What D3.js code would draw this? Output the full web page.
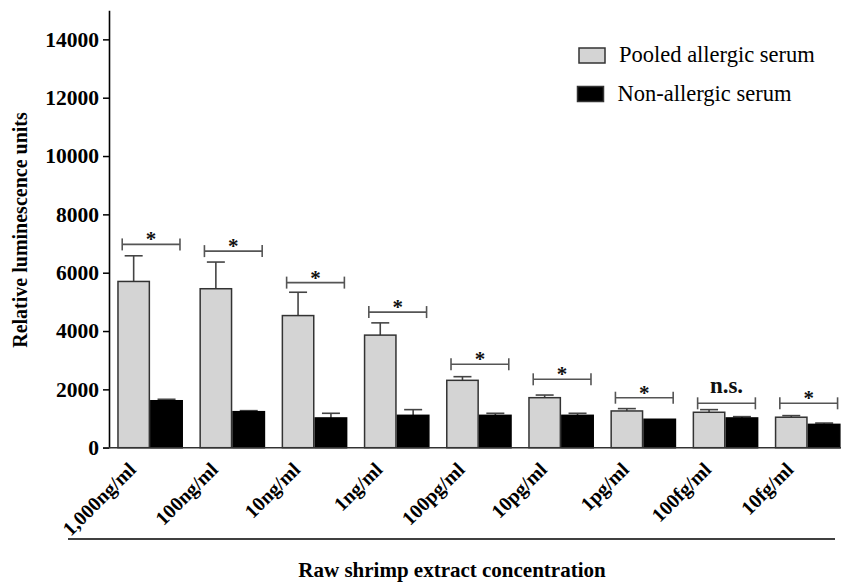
<!DOCTYPE html>
<html>
<head>
<meta charset="utf-8">
<script src="https://cdn.jsdelivr.net/npm/d3@7"></script>
<style>
  body { margin: 0; background: #fff; }
</style>
</head>
<body>
<div id="chart"></div>
<script>
// concentrations on the x axis
const categories = ['1,000ng/ml', '100ng/ml', '10ng/ml', '1ng/ml', '100pg/ml', '10pg/ml', '1pg/ml', '100fg/ml', '10fg/ml'];
// mean RLU and upper error (SEM)
const pooled = [5700, 5450, 4530, 3860, 2310, 1715, 1260, 1215, 1045];
const pooledErr = [880, 915, 800, 420, 125, 90, 80, 90, 55];
const nonAllergic = [1610, 1235, 1020, 1110, 1110, 1110, 975, 1020, 800];
const nonAllergicErr = [50, 35, 160, 195, 70, 70, 0, 45, 45];
// significance brackets (height in RLU) and their labels
const bracketLevel = [6970, 6740, 5660, 4650, 2860, 2345, 1714, 1522, 1522];
const bracketLabel = ['*', '*', '*', '*', '*', '*', '*', 'n.s.', '*'];
const yTicks = [0, 2000, 4000, 6000, 8000, 10000, 12000, 14000];
const seriesNames = ['Pooled allergic serum', 'Non-allergic serum'];

const FONT = '"Liberation Serif", "Times New Roman", serif';
const width = 841, height = 583;
const svg = d3.select('#chart').append('svg')
  .attr('width', width)
  .attr('height', height)
  .attr('font-family', FONT)
  .style('display', 'block');

const x0 = 109, yBase = 447.7;

const y = d3.scaleLinear().domain([0, 15000]).range([yBase, 10.2]);

const x = d3.scaleBand()
  .domain(categories)
  .range([x0, x0 + 82.2 * 9])
  .paddingInner(0.2)
  .paddingOuter(0.1);

const xs = d3.scaleBand()
  .domain(['pooled', 'non'])
  .range([0, x.bandwidth()]);

const rows = categories.map((c, i) => ({
  cat: c,
  bars: [
    { key: 'pooled', v: pooled[i], e: pooledErr[i] },
    { key: 'non', v: nonAllergic[i], e: nonAllergicErr[i] }
  ],
  level: bracketLevel[i],
  label: bracketLabel[i]
}));

const fills = { pooled: '#d4d4d4', non: '#000' };

// error bars (drawn first so the bar top covers the stem)
const errG = svg.append('g').attr('stroke', '#444').attr('stroke-width', 1.6);
rows.forEach(r => {
  r.bars.forEach(b => {
    if (!b.e) return;
    const cx = x(r.cat) + xs(b.key) + xs.bandwidth() / 2;
    errG.append('line')
      .attr('x1', cx).attr('x2', cx)
      .attr('y1', y(b.v)).attr('y2', y(b.v + b.e));
    errG.append('line')
      .attr('x1', cx - 9).attr('x2', cx + 9)
      .attr('y1', y(b.v + b.e)).attr('y2', y(b.v + b.e));
  });
});

// bars
const groups = svg.append('g')
  .selectAll('g')
  .data(rows)
  .join('g')
  .attr('transform', d => `translate(${x(d.cat)},0)`);

groups.selectAll('rect')
  .data(d => d.bars)
  .join('rect')
  .attr('x', d => xs(d.key) + 0.75)
  .attr('width', xs.bandwidth() - 1.5)
  .attr('y', d => y(d.v))
  .attr('height', d => yBase - y(d.v))
  .attr('fill', d => fills[d.key])
  .attr('stroke', d => d.key === 'pooled' ? '#333' : '#000')
  .attr('stroke-width', 1.5);

// significance brackets
const brG = svg.append('g');
rows.forEach(r => {
  const bx1 = x(r.cat) + 5;
  const bx2 = x(r.cat) + x.bandwidth() - 3;
  const by = y(r.level);
  const g = brG.append('g').attr('stroke', '#555').attr('stroke-width', 1.6);
  g.append('line').attr('x1', bx1).attr('x2', bx2).attr('y1', by).attr('y2', by);
  g.append('line').attr('x1', bx1).attr('x2', bx1).attr('y1', by - 6).attr('y2', by + 6);
  g.append('line').attr('x1', bx2).attr('x2', bx2).attr('y1', by - 6).attr('y2', by + 6);
  brG.append('text')
    .attr('x', (bx1 + bx2) / 2)
    .attr('y', r.label === '*' ? by + 2 : by - 10)
    .attr('text-anchor', 'middle')
    .attr('font-family', FONT)
    .attr('font-weight', 'bold')
    .attr('font-size', r.label === '*' ? 21 : 23)
    .attr('fill', '#111')
    .text(r.label);
});

// y axis
const yAxis = svg.append('g')
  .attr('transform', `translate(${x0},0)`)
  .call(d3.axisLeft(y).tickValues(yTicks).tickFormat(d3.format('d'))
    .tickSize(6).tickPadding(4).tickSizeOuter(0))
  .attr('font-family', FONT);
yAxis.select('.domain').attr('stroke', '#000').attr('stroke-width', 1.6);
yAxis.selectAll('.tick line').attr('stroke', '#000').attr('stroke-width', 1.5);
yAxis.selectAll('.tick text')
  .attr('font-family', FONT)
  .attr('font-size', 21.5)
  .attr('font-weight', 'bold')
  .attr('fill', '#000');

// x baseline
svg.append('line')
  .attr('x1', x0 - 6).attr('x2', width)
  .attr('y1', yBase).attr('y2', yBase)
  .attr('stroke', '#333').attr('stroke-width', 1.6);

// x tick labels, rotated
svg.append('g')
  .selectAll('text')
  .data(categories)
  .join('text')
  .attr('transform', d => `translate(${x(d) + x.bandwidth() / 2 - 13},${yBase + 23}) rotate(-45)`)
  .attr('text-anchor', 'end')
  .attr('font-family', FONT)
  .attr('font-size', 20)
  .attr('font-weight', 'bold')
  .text(d => d);

// rule under the labels
svg.append('line')
  .attr('x1', 68).attr('x2', 835)
  .attr('y1', 539).attr('y2', 539)
  .attr('stroke', '#000').attr('stroke-width', 1.5);

// axis titles
svg.append('text')
  .attr('x', 452).attr('y', 577)
  .attr('text-anchor', 'middle')
  .attr('font-family', FONT)
  .attr('font-size', 21)
  .attr('font-weight', 'bold')
  .text('Raw shrimp extract concentration');

svg.append('text')
  .attr('transform', 'translate(27,230) rotate(-90)')
  .attr('text-anchor', 'middle')
  .attr('font-family', FONT)
  .attr('font-size', 20)
  .attr('font-weight', 'bold')
  .text('Relative luminescence units');

// legend
const legend = svg.append('g');
seriesNames.forEach((name, i) => {
  const ly = 48 + i * 38.5;
  legend.append('rect')
    .attr('x', 579 - i * 1.5).attr('y', ly)
    .attr('width', 26).attr('height', 15)
    .attr('fill', i === 0 ? fills.pooled : fills.non)
    .attr('stroke', '#333').attr('stroke-width', 1.5);
  legend.append('text')
    .attr('x', 619 - i * 1.5).attr('y', ly + 14)
    .attr('font-family', FONT)
    .attr('font-size', 22.5)
    .text(name);
});
</script>
</body>
</html>
